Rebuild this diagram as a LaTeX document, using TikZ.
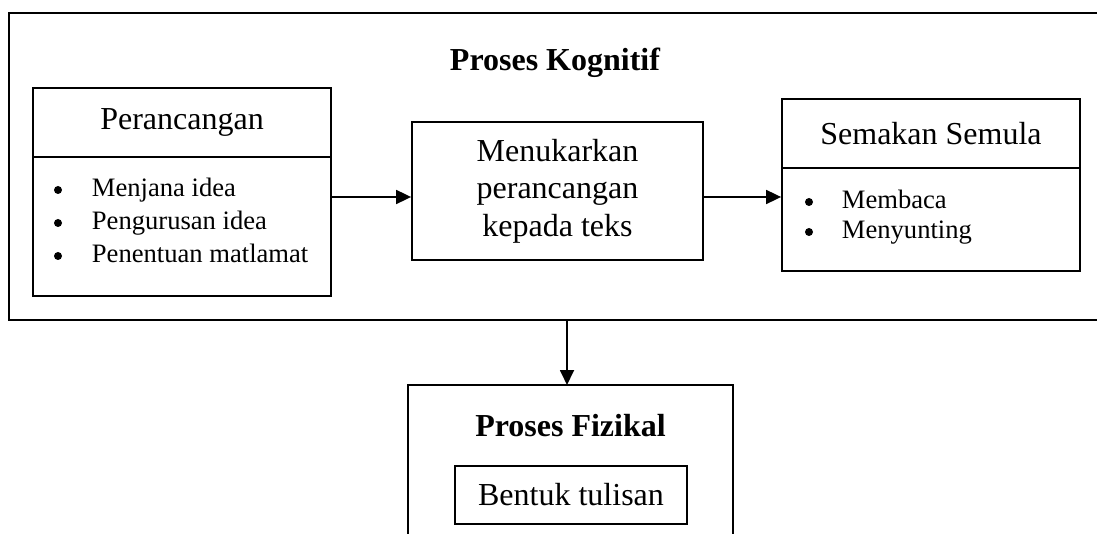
\documentclass[tikz,border=0pt]{standalone}
\usepackage{fontspec}
\setmainfont{Liberation Serif}
\usetikzlibrary{arrows.meta}
\begin{document}
\begin{tikzpicture}[x=1pt,y=-1pt,
  line width=1.8pt,
  big/.style={font=\fontsize{32}{37.5}\selectfont},
  bigb/.style={font=\fontsize{32}{37.5}\selectfont\bfseries},
  small/.style={font=\fontsize{26.6}{31}\selectfont},
  boxr/.style={draw,rectangle,inner sep=0pt},
  arr/.style={-{Triangle[length=15pt,width=14pt]}},
  item/.style={small,anchor=base west,inner sep=0pt},
  dot/.style={circle,fill,draw=none,inner sep=0pt,minimum size=8pt}]
\useasboundingbox (0,0) rectangle (1097,534);
\begin{scope}
\clip (0,0) rectangle (1097,534);
% outer cognitive frame
\draw (1110,13) -- (9,13) -- (9,320) -- (1110,320);
% physical frame
\draw (408,560) -- (408,385) -- (733,385) -- (733,560);
\end{scope}
\node[bigb,anchor=base] (kog) at (555,71) {Proses Kognitif};
% Perancangan
\node[boxr,big,minimum width=298pt,minimum height=69pt] (perH) at (182,122.5) {Perancangan};
\node[boxr,minimum width=298pt,minimum height=139pt] (perB) at (182,226.5) {};
\node[dot] (pd1) at (58,190) {};
\node[dot] (pd2) at (58,223) {};
\node[dot] (pd3) at (58,256) {};
\node[item] (p1) at (91,197) {Menjana idea};
\node[item] (p2) at (91,230) {Pengurusan idea};
\node[item] (p3) at (91,263) {Penentuan matlamat};
% middle
\node[boxr,big,align=center,minimum width=291pt,minimum height=138pt] (mid) at (557.5,191) {Menukarkan\\perancangan\\kepada teks};
% Semakan
\node[boxr,big,minimum width=298pt,minimum height=69pt] (semH) at (931,133.5) {Semakan Semula};
\node[boxr,minimum width=298pt,minimum height=103pt] (semB) at (931,219.5) {};
\node[dot] (sd1) at (809,202) {};
\node[dot] (sd2) at (809,232) {};
\node[item] (s1) at (841,209) {Membaca};
\node[item] (s2) at (841,239) {Menyunting};
% physical
\node[bigb,anchor=base] (fiz) at (570.5,436) {Proses Fizikal};
\node[boxr,big,minimum width=232pt,minimum height=58pt] (bentuk) at (571,495) {Bentuk tulisan};
\coordinate (kogB) at (567,320);
\coordinate (fizT) at (567,385);
% arrows
\draw[arr] (perB.east |- 0,197) -- (mid.west |- 0,197);
\draw[arr] (mid.east |- 0,197) -- (semB.west |- 0,197);
\draw[arr] (kogB) -- (fizT);
\end{tikzpicture}
\end{document}
